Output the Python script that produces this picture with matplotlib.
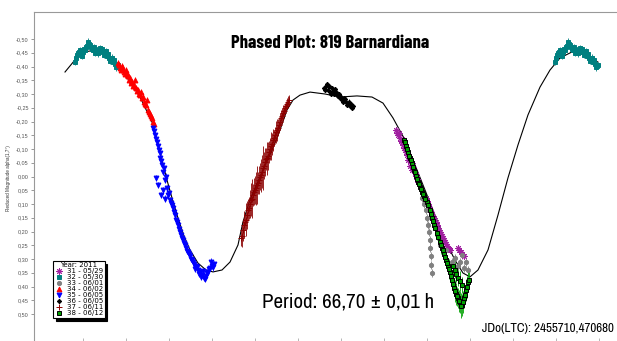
import matplotlib
matplotlib.use('Agg')
import matplotlib.pyplot as plt
import numpy as np

# fitted curve (phase, reduced magnitude)
curve_phase = [-0.0625, -0.0417, -0.0208, 0.0, 0.0208, 0.0354, 0.0479, 0.0729, 0.0938,
               0.1188, 0.1292, 0.1396, 0.15, 0.1604, 0.1729, 0.1854, 0.1979, 0.2146,
               0.2313, 0.2458, 0.2646, 0.2813, 0.2979, 0.3083, 0.3229, 0.35, 0.3688,
               0.3854, 0.4, 0.4125, 0.4271, 0.4479, 0.4792, 0.5104, 0.5458, 0.5771,
               0.6, 0.6208, 0.6458, 0.6667, 0.6875, 0.7083, 0.7292, 0.75, 0.7667,
               0.7813, 0.7979, 0.8188, 0.8396, 0.8604, 0.8813, 0.9021, 0.9271, 0.9479,
               0.9688, 0.9938, 1.0208, 1.0479]
curve_mag = [-0.380, -0.424, -0.453, -0.460, -0.449, -0.431, -0.405, -0.344, -0.289,
             -0.198, -0.133, -0.060, 0.013, 0.078, 0.151, 0.216, 0.267, 0.315,
             0.340, 0.347, 0.340, 0.311, 0.249, 0.165, 0.085, -0.024, -0.096,
             -0.169, -0.242, -0.278, -0.296, -0.307, -0.300, -0.289, -0.293, -0.289,
             -0.267, -0.213, -0.133, -0.042, 0.049, 0.140, 0.231, 0.304, 0.351,
             0.365, 0.340, 0.267, 0.140, 0.005, -0.115, -0.224, -0.325, -0.387,
             -0.431, -0.453, -0.442, -0.416]

# session 31 - 05/29
s31_phase = [0.6271, 0.6313, 0.6354, 0.6396, 0.6438, 0.6479, 0.6542, 0.6604, 0.6646, 0.6688,
             0.6729, 0.6896, 0.6938, 0.6979, 0.7021, 0.7104, 0.7146, 0.7188, 0.7229, 0.7271,
             0.7313, 0.7354, 0.7396, 0.7563, 0.7625, 0.7688, 0.6604, 0.6438,
             0.6292, 0.6333, 0.6375, 0.6417, 0.6458, 0.65, 0.6521, 0.6563, 0.6625, 0.6667,
             0.6708, 0.6917, 0.6958, 0.7, 0.7063, 0.7125, 0.7167, 0.7208, 0.725, 0.7292,
             0.7333, 0.7375, 0.7583, 0.7646]
s31_mag = [-0.169, -0.151, -0.140, -0.125, -0.104, -0.089, -0.067, -0.049, -0.024, -0.002,
           0.020, 0.078, 0.100, 0.122, 0.140, 0.165, 0.187, 0.202, 0.216, 0.231,
           0.245, 0.260, 0.267, 0.260, 0.275, 0.289, -0.024, -0.133,
           -0.158, -0.160, -0.130, -0.115, -0.095, -0.080, -0.060, -0.040, -0.035, -0.012,
           0.008, 0.090, 0.110, 0.130, 0.150, 0.175, 0.195, 0.210, 0.225, 0.238,
           0.252, 0.262, 0.268, 0.282]

# session 32 - 05/30 (also shown one cycle later)
s32_phase = [-0.0417, -0.0375, -0.0333, -0.0292, -0.025, -0.0208, -0.0167, -0.0125, -0.0083,
             -0.0042, 0.0, 0.0042, 0.0083, 0.0125, 0.0167, 0.0208, 0.025, 0.0292, 0.0333,
             0.0375, 0.0417, 0.0458,
             -0.0396, -0.0354, -0.0313, -0.0271, -0.0229, -0.0188, -0.0146, -0.0104, -0.0063,
             -0.0021, 0.0021, 0.0063, 0.0104, 0.0146, 0.0188, 0.0229, 0.0271, 0.0313, 0.0354,
             0.0396, 0.0438, 0.0479]
s32_mag = [-0.416, -0.442, -0.453, -0.445, -0.453, -0.460, -0.475, -0.482, -0.471,
           -0.460, -0.449, -0.456, -0.464, -0.456, -0.453, -0.445, -0.438, -0.431, -0.424,
           -0.416, -0.409, -0.402,
           -0.430, -0.450, -0.460, -0.440, -0.462, -0.470, -0.490, -0.478, -0.465,
           -0.470, -0.458, -0.448, -0.466, -0.462, -0.442, -0.455, -0.447, -0.420, -0.432,
           -0.425, -0.397, -0.405]

# session 33 - 06/01
s33_phase = [0.6813, 0.6854, 0.6896, 0.6917, 0.6938, 0.6958, 0.6979, 0.6979, 0.7, 0.7, 0.7021,
             0.7438, 0.75, 0.7563, 0.7604, 0.7646, 0.7688, 0.7729, 0.7771, 0.7188, 0.7313]
s33_mag = [0.078, 0.100, 0.122, 0.151, 0.176, 0.202, 0.231, 0.260, 0.289, 0.322, 0.351,
           0.311, 0.296, 0.325, 0.311, 0.285, 0.333, 0.311, 0.340, 0.249, 0.267]

# session 34 - 06/02
s34_phase = [0.0479, 0.0521, 0.0563, 0.0604, 0.0646, 0.0688, 0.0729, 0.0771, 0.0813, 0.0854,
             0.0896, 0.0938, 0.0979, 0.1021, 0.1063, 0.1104, 0.1146, 0.1188, 0.1229,
             0.0833, 0.0958, 0.1083,
             0.05, 0.0542, 0.0583, 0.0625, 0.0667, 0.0708, 0.075, 0.0792, 0.0875, 0.0917,
             0.1, 0.1042, 0.1125, 0.1167, 0.1208]
s34_mag = [-0.413, -0.395, -0.402, -0.380, -0.387, -0.365, -0.358, -0.344, -0.333, -0.322,
           -0.315, -0.296, -0.285, -0.271, -0.260, -0.242, -0.227, -0.213, -0.191,
           -0.351, -0.307, -0.278,
           -0.405, -0.388, -0.392, -0.372, -0.375, -0.350, -0.340, -0.328, -0.312, -0.300,
           -0.290, -0.262, -0.235, -0.220, -0.200]

# session 35 - 06/05
s35_phase = [0.1208, 0.125, 0.1292, 0.1333, 0.1354, 0.1396, 0.1417, 0.1458, 0.15, 0.1521,
             0.1563, 0.1604, 0.1646, 0.1688, 0.1729, 0.1771, 0.1813, 0.1854, 0.1896, 0.1938,
             0.1979, 0.2021, 0.2063, 0.2104, 0.2146, 0.2188, 0.2229, 0.2271, 0.2313, 0.2354,
             0.2396, 0.2438, 0.2479, 0.1313, 0.1375, 0.1271,
             0.1229, 0.1271, 0.1313, 0.1354, 0.1375, 0.1438, 0.1479, 0.1417, 0.1458, 0.1542,
             0.1583, 0.1625, 0.1667, 0.1708, 0.175, 0.1792, 0.1833, 0.1875, 0.1917, 0.1958,
             0.2, 0.2042, 0.2083, 0.2125, 0.2167, 0.2208, 0.225, 0.2292, 0.2333, 0.2375,
             0.2417, 0.2458]
s35_mag = [-0.176, -0.151, -0.125, -0.096, -0.067, -0.042, -0.016, 0.013, 0.042, 0.067,
           0.085, 0.104, 0.129, 0.158, 0.176, 0.202, 0.224, 0.242, 0.260, 0.275,
           0.289, 0.304, 0.318, 0.325, 0.340, 0.347, 0.358, 0.369, 0.362, 0.347,
           0.333, 0.325, 0.318, 0.031, 0.067, 0.005,
           -0.165, -0.138, -0.110, -0.085, -0.055, -0.030, 0.000, 0.050, 0.080, 0.060,
           0.095, 0.115, 0.140, 0.165, 0.190, 0.212, 0.232, 0.250, 0.270, 0.282,
           0.300, 0.312, 0.335, 0.330, 0.355, 0.365, 0.345, 0.372, 0.350, 0.338,
           0.310, 0.330]

# session 36 - 06/05
s36_phase = [0.4771, 0.4813, 0.4854, 0.4896, 0.4938, 0.4979, 0.5021, 0.5063, 0.5104, 0.5146,
             0.5188, 0.5229, 0.5271, 0.5313, 0.5354, 0.4833, 0.4958,
             0.4792, 0.4875, 0.4917, 0.5, 0.5042, 0.5083, 0.5125, 0.5167, 0.5208, 0.525,
             0.5292, 0.5333, 0.5375]
s36_mag = [-0.322, -0.329, -0.315, -0.307, -0.322, -0.300, -0.307, -0.293, -0.285, -0.278,
           -0.285, -0.271, -0.264, -0.256, -0.249, -0.336, -0.311,
           -0.315, -0.330, -0.300, -0.318, -0.295, -0.300, -0.290, -0.270, -0.280, -0.260,
           -0.272, -0.262, -0.255]

# session 37 - 06/11
s37_phase = [0.3042, 0.3083, 0.3125, 0.3167, 0.3208, 0.325, 0.3292, 0.3333, 0.3375, 0.3417,
             0.3458, 0.35, 0.3542, 0.3583, 0.3625, 0.3667, 0.3708, 0.375, 0.3792, 0.3833,
             0.3875, 0.3917, 0.3958, 0.4, 0.4042,
             0.3063, 0.3104, 0.3146, 0.3188, 0.3229, 0.3271, 0.3313, 0.3354, 0.3396, 0.3438,
             0.3479, 0.3521, 0.3563, 0.3604, 0.3646, 0.3688, 0.3729, 0.3771, 0.3813, 0.3854,
             0.3896, 0.3938, 0.3979, 0.4021]
s37_mag = [0.224, 0.195, 0.165, 0.140, 0.115, 0.085, 0.067, 0.049, 0.031, 0.013,
           -0.005, -0.031, -0.053, -0.067, -0.089, -0.111, -0.133, -0.151, -0.169, -0.187,
           -0.213, -0.231, -0.249, -0.264, -0.278,
           0.215, 0.175, 0.158, 0.122, 0.100, 0.080, 0.055, 0.042, 0.025, 0.000,
           -0.018, -0.040, -0.062, -0.075, -0.100, -0.120, -0.140, -0.162, -0.178, -0.200,
           -0.220, -0.240, -0.256, -0.271]
s37_err = [0.03, 0.04, 0.03, 0.05, 0.04, 0.06, 0.04, 0.05, 0.07, 0.05,
           0.06, 0.08, 0.05, 0.06, 0.04, 0.05, 0.04, 0.03, 0.04, 0.03,
           0.03, 0.03, 0.02, 0.02, 0.02,
           0.04, 0.05, 0.06, 0.04, 0.05, 0.07, 0.05, 0.06, 0.04, 0.05,
           0.06, 0.05, 0.04, 0.05, 0.04, 0.04, 0.03, 0.04, 0.03, 0.03,
           0.03, 0.02, 0.02, 0.02]

# session 38 - 06/12
s38_phase = [0.6438, 0.6479, 0.6521, 0.6563, 0.6604, 0.6646, 0.6688, 0.6729, 0.6771, 0.6813,
             0.6854, 0.6917, 0.6979, 0.7021, 0.7063, 0.7125, 0.7188, 0.7229, 0.7271, 0.7313,
             0.7354, 0.7396, 0.7438, 0.7479, 0.7521, 0.7563, 0.7604, 0.7646, 0.7688, 0.7729,
             0.7771, 0.7646, 0.7563, 0.75,
             0.6458, 0.65, 0.6542, 0.6583, 0.6625, 0.6667, 0.6708, 0.675, 0.6792, 0.6833,
             0.6875, 0.6938, 0.7, 0.7042, 0.7083, 0.7146, 0.7208, 0.725, 0.7292, 0.7333,
             0.7375, 0.7417, 0.7458, 0.75, 0.7542, 0.7583, 0.7625, 0.7667, 0.7708, 0.775,
             0.7792, 0.7604, 0.7521, 0.7458]
s38_mag = [-0.133, -0.111, -0.089, -0.067, -0.049, -0.024, -0.002, 0.020, 0.038, 0.056,
           0.071, 0.093, 0.122, 0.151, 0.176, 0.205, 0.238, 0.260, 0.282, 0.304,
           0.325, 0.347, 0.376, 0.405, 0.427, 0.442, 0.456, 0.467, 0.442, 0.413,
           0.384, 0.395, 0.369, 0.340,
           -0.125, -0.100, -0.075, -0.060, -0.035, -0.015, 0.008, 0.028, 0.045, 0.065,
           0.080, 0.105, 0.135, 0.160, 0.188, 0.220, 0.250, 0.268, 0.292, 0.315,
           0.336, 0.360, 0.390, 0.415, 0.435, 0.452, 0.470, 0.455, 0.430, 0.400,
           0.375, 0.380, 0.355, 0.325]
s38_err = [0.01, 0.015, 0.01, 0.015, 0.02, 0.015, 0.02, 0.015, 0.02, 0.02,
           0.02, 0.025, 0.02, 0.025, 0.02, 0.025, 0.03, 0.025, 0.03, 0.025,
           0.03, 0.03, 0.035, 0.03, 0.04, 0.035, 0.04, 0.04, 0.035, 0.04,
           0.035, 0.03, 0.03, 0.03,
           0.015, 0.01, 0.015, 0.02, 0.015, 0.02, 0.02, 0.015, 0.02, 0.025,
           0.02, 0.02, 0.025, 0.02, 0.03, 0.025, 0.03, 0.025, 0.03, 0.03,
           0.035, 0.03, 0.035, 0.04, 0.035, 0.04, 0.045, 0.04, 0.035, 0.04,
           0.03, 0.035, 0.03, 0.03]

legend_labels = ['31 - 05/29', '32 - 05/30', '33 - 06/01', '34 - 06/02',
                 '35 - 06/05', '36 - 06/05', '37 - 06/11', '38 - 06/12']

ytick_vals = np.round(np.arange(-0.50, 0.501, 0.05), 2)

W, H = 617, 341
fig = plt.figure(figsize=(W / 100, H / 100), dpi=100)
ax = fig.add_axes([34 / W, -0.5 / H, 586 / W, 330 / H])

ax.plot(curve_phase, curve_mag, color='black', lw=0.8, zorder=1)

def session(ph, mg, err, marker, color, ec=None, ms=3.5):
    return ax.errorbar(ph, mg, yerr=err, marker=marker, linestyle='none', color=color,
                       mec=ec or color, ms=ms, mew=0.7, elinewidth=0.6, capsize=0, zorder=2)

h = []
h.append(session(s31_phase, s31_mag, 0.012, (8, 2, 0), '#a020a0', ms=4.5))
h.append(session(s32_phase, s32_mag, 0.012, 's', '#008080'))
session(np.array(s32_phase) + 1.0, s32_mag, 0.012, 's', '#008080')
h.append(session(s33_phase, s33_mag, 0.015, 'o', '#808080', ms=3))
h.append(session(s34_phase, s34_mag, 0.012, '^', '#ff0000'))
h.append(session(s35_phase, s35_mag, 0.012, 'v', '#0000ff'))
h.append(session(s36_phase, s36_mag, 0.008, 'D', '#000000', ms=2.2))
h.append(session(s37_phase, s37_mag, s37_err, '+', '#8b0000', ms=4))
h.append(session(s38_phase, s38_mag, s38_err, 's', '#00a000', ec='black', ms=3))

ax.set_xlim(-0.1271, 1.0938)
ax.set_ylim(0.6, -0.6)

ax.set_yticks(ytick_vals)
ax.set_yticklabels([('%.2f' % v).replace('.', ',').replace('-0,00', '0,00') for v in ytick_vals],
                   fontsize=4, color='#555555', family='Liberation Sans')
ax.tick_params(axis='y', direction='out', length=2.5, width=0.6, color='#888888', pad=1.2)
ax.set_xticks(np.arange(-0.025, 1.09, 0.0896))
ax.set_xticklabels([])
ax.tick_params(axis='x', direction='in', length=3, width=0.6, color='#aaaaaa')

for side in ['left', 'top']:
    ax.spines[side].set_color('#999999')
    ax.spines[side].set_linewidth(0.8)
ax.spines['right'].set_visible(False)
ax.spines['bottom'].set_visible(False)

fig.text(9 / W, 1 - 178 / H, 'Reduced Magnitude alpha(1,7°)', rotation=90,
         ha='center', va='center', fontsize=3.3, family='Liberation Sans', color='#333333')

fig.text(330 / W, 1 - 48 / H, 'Phased Plot: 819 Barnardiana', ha='center', va='baseline',
         fontsize=13.5, fontweight='bold', family=['Barlow Condensed', 'Liberation Sans'])
narrow = ['Archivo Narrow', 'Liberation Sans']
fig.text(348 / W, 1 - 308 / H, 'Period: 66,70 ± 0,01 h', ha='center', va='baseline',
         fontsize=15, family=narrow)
fig.text(614 / W, 1 - 332 / H, 'JDo(LTC): 2455710,470680', ha='right', va='baseline',
         fontsize=9.4, family=narrow)

leg = ax.legend([c[0] for c in h], legend_labels, title='Year: 2011', loc='upper left',
                bbox_to_anchor=(53 / W, 1 - 261 / H), bbox_transform=fig.transFigure,
                borderaxespad=0, fancybox=False, framealpha=1, edgecolor='black',
                shadow={'color': 'black', 'alpha': 1},
                prop={'family': 'DejaVu Sans', 'size': 5},
                title_fontproperties={'family': 'DejaVu Sans', 'size': 5},
                labelspacing=0.0, handlelength=1.3, handletextpad=0.5, borderpad=0.2,
                markerscale=1.0)
leg.get_frame().set_linewidth(0.8)

fig.savefig('out.png', dpi=100)
